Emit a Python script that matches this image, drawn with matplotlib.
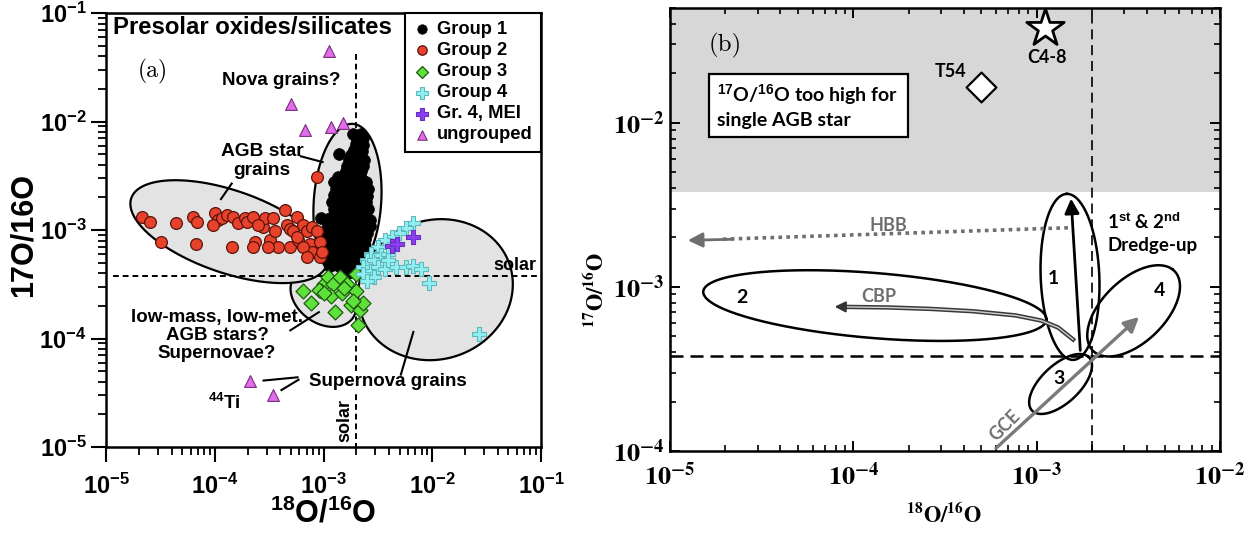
import numpy as np
import matplotlib.pyplot as plt
from matplotlib import patheffects as pe
from matplotlib.patches import Rectangle
from matplotlib.ticker import LogLocator, NullFormatter

plt.rcParams['font.family'] = ['Liberation Sans', 'DejaVu Sans']
plt.rcParams['font.weight'] = 'bold'
plt.rcParams['mathtext.fontset'] = 'custom'
plt.rcParams['mathtext.rm'] = 'Liberation Sans:bold'
plt.rcParams['mathtext.bf'] = 'Liberation Sans:bold'
plt.rcParams['mathtext.it'] = 'Liberation Sans:bold'

SOLAR_18, SOLAR_17 = 2.0e-3, 3.8e-4

# ---------------- panel (a): grain data (18O/16O, 17O/16O) ----------------
g1_18 = [1.85e-3, 2.2e-3, 2.3e-3, 2.05e-3, 2.0e-3, 2.3e-3, 1.9e-3, 2.25e-3,
         1.4e-3, 1.8e-3, 2.1e-3, 1.7e-3, 2.0e-3, 2.35e-3, 1.65e-3, 1.95e-3, 2.3e-3,
         1.6e-3, 1.9e-3, 2.2e-3, 1.35e-3, 1.55e-3, 1.85e-3, 2.2e-3,
         1.25e-3, 1.5e-3, 1.8e-3, 2.15e-3, 2.45e-3, 1.3e-3, 1.55e-3, 1.85e-3, 2.2e-3, 2.55e-3,
         1.25e-3, 1.5e-3, 1.8e-3, 2.1e-3, 2.5e-3, 1.2e-3, 1.45e-3, 1.75e-3, 2.05e-3, 2.45e-3,
         1.25e-3, 1.5e-3, 1.8e-3, 2.1e-3, 2.55e-3,
         9.4e-4, 1.15e-3, 1.4e-3, 1.7e-3, 2.0e-3, 2.4e-3, 2.7e-3,
         1.1e-3, 1.35e-3, 1.6e-3, 1.95e-3, 2.3e-3, 2.7e-3,
         1.0e-3, 1.2e-3, 1.45e-3, 1.75e-3, 2.1e-3, 2.5e-3,
         9.8e-4, 1.15e-3, 1.4e-3, 1.7e-3, 2.0e-3, 2.4e-3,
         1.0e-3, 1.2e-3, 1.45e-3, 1.75e-3, 2.1e-3, 2.4e-3,
         1.0e-3, 1.2e-3, 1.45e-3, 1.75e-3, 2.05e-3, 2.3e-3,
         1.1e-3, 1.35e-3, 1.6e-3, 1.9e-3, 2.2e-3,
         1.15e-3, 1.4e-3, 1.7e-3, 1.95e-3, 2.15e-3,
         1.5e-3, 1.8e-3, 2.0e-3]
g1_17 = [7.7e-3, 7.6e-3, 7.0e-3, 6.8e-3, 6.2e-3, 6.1e-3, 5.5e-3, 5.4e-3,
         5.0e-3, 4.9e-3, 5.0e-3, 4.4e-3, 4.3e-3, 4.4e-3, 3.9e-3, 3.8e-3, 3.9e-3,
         3.5e-3, 3.4e-3, 3.5e-3, 3.1e-3, 3.0e-3, 3.1e-3, 3.0e-3,
         2.8e-3, 2.75e-3, 2.8e-3, 2.7e-3, 2.8e-3, 2.4e-3, 2.45e-3, 2.4e-3, 2.35e-3, 2.4e-3,
         2.1e-3, 2.05e-3, 2.1e-3, 2.1e-3, 2.05e-3, 1.8e-3, 1.8e-3, 1.75e-3, 1.8e-3, 1.8e-3,
         1.55e-3, 1.55e-3, 1.5e-3, 1.55e-3, 1.55e-3,
         1.3e-3, 1.3e-3, 1.3e-3, 1.28e-3, 1.3e-3, 1.3e-3, 1.25e-3,
         1.12e-3, 1.12e-3, 1.1e-3, 1.12e-3, 1.12e-3, 1.08e-3,
         9.6e-4, 9.6e-4, 9.5e-4, 9.6e-4, 9.6e-4, 9.4e-4,
         8.3e-4, 8.3e-4, 8.2e-4, 8.3e-4, 8.3e-4, 8.2e-4,
         7.2e-4, 7.2e-4, 7.1e-4, 7.2e-4, 7.2e-4, 7.1e-4,
         6.2e-4, 6.2e-4, 6.1e-4, 6.2e-4, 6.2e-4, 6.1e-4,
         5.4e-4, 5.4e-4, 5.3e-4, 5.4e-4, 5.4e-4,
         4.7e-4, 4.7e-4, 4.6e-4, 4.7e-4, 4.7e-4,
         4.1e-4, 4.1e-4, 4.0e-4]

g2_18 = [2.13e-5, 2.54e-5, 4.38e-5, 3.2e-5, 6.27e-5, 6.82e-5, 6.73e-5, 1.0e-4, 1.08e-4,
         9.7e-5, 1.16e-4, 1.43e-4, 1.29e-4, 1.48e-4, 1.65e-4, 1.9e-4, 1.97e-4, 2.26e-4,
         2.34e-4, 2.26e-4, 2.8e-4, 2.9e-4, 3.22e-4, 3.46e-4, 3.58e-4, 3.85e-4, 4.43e-4,
         4.58e-4, 4.92e-4, 4.92e-4, 5.27e-4, 5.66e-4, 5.86e-4, 6.5e-4, 7.0e-4, 7.5e-4,
         7.8e-4, 7.9e-4, 8.65e-4, 9.3e-4, 9.3e-4, 9.6e-4, 8.65e-4, 2.52e-4, 3.11e-4,
         6.5e-4, 7.0e-4, 5.66e-4]
g2_17 = [1.31e-3, 1.18e-3, 1.15e-3, 7.8e-4, 1.31e-3, 1.18e-3, 7.5e-4, 1.43e-3, 1.24e-3,
         1.11e-3, 1.28e-3, 7.0e-4, 1.37e-3, 1.31e-3, 1.15e-3, 1.28e-3, 1.19e-3, 1.33e-3,
         7.8e-4, 7.0e-4, 1.07e-3, 1.28e-3, 8.1e-4, 1.28e-3, 9.7e-4, 7.0e-4, 1.53e-3,
         1.11e-3, 7.0e-4, 1.03e-3, 9.7e-4, 1.33e-3, 8.1e-4, 1.11e-3, 9.7e-4, 7.5e-4,
         6.3e-4, 1.07e-3, 9.7e-4, 5.7e-4, 7.8e-4, 6.3e-4, 3.1e-3, 1.11e-3, 7.0e-4,
         7.0e-4, 5.7e-4, 8.7e-4]

g3_18 = [6.46e-4, 7.7e-4, 1.02e-3, 1.09e-3, 1.23e-3, 1.43e-3, 1.66e-3, 9.4e-4, 1.18e-3,
         1.48e-3, 2.0e-3, 1.79e-3, 2.16e-3, 2.33e-3, 1.86e-3, 1.27e-3, 2.08e-3, 9.1e-4,
         2.0e-3, 1.55e-3, 1.02e-3]
g3_17 = [2.77e-4, 2.12e-4, 3.16e-4, 3.66e-4, 3.16e-4, 3.66e-4, 3.2e-4, 2.73e-4, 2.45e-4,
         2.64e-4, 2.73e-4, 2.05e-4, 1.84e-4, 2.12e-4, 2.2e-4, 1.77e-4, 1.33e-4, 2.8e-4,
         3.93e-4, 2.9e-4, 2.6e-4]

g4_18 = [6.7e-3, 5.76e-3, 4.96e-3, 4.26e-3, 3.66e-3, 3.15e-3, 2.71e-3, 2.51e-3, 2.92e-3,
         3.4e-3, 3.95e-3, 2.33e-3, 2.71e-3, 3.15e-3, 3.66e-3, 4.6e-3, 5.76e-3, 6.7e-3,
         7.8e-3, 9.4e-3, 2.33e-3, 2.92e-3, 2.51e-3, 3.95e-3, 2.71e-2]
g4_17 = [1.16e-3, 1.04e-3, 9.4e-4, 8.7e-4, 8.1e-4, 7.0e-4, 6.07e-4, 5.25e-4, 5.25e-4,
         5.85e-4, 6.07e-4, 4.54e-4, 4.22e-4, 4.54e-4, 4.38e-4, 4.54e-4, 4.6e-4, 4.7e-4,
         4.38e-4, 3.28e-4, 3.93e-4, 3.66e-4, 3.4e-4, 5.25e-4, 1.1e-4]

mei_18 = [4.26e-3, 4.78e-3, 6.7e-3]
mei_17 = [7.1e-4, 7.4e-4, 8.7e-4]

ung_18 = [1.12e-3, 5.0e-4, 6.8e-4, 1.17e-3, 1.51e-3, 2.11e-4, 3.44e-4]
ung_17 = [4.47e-2, 1.45e-2, 8.36e-3, 8.9e-3, 9.7e-3, 4.06e-5, 3.0e-5]

exps_a = [-5, -4, -3, -2, -1]

# outlined regions: centre (18O/16O, 17O/16O), half axes in decades, tilt (deg)
region_g3 = (1.0e-3, 2.4e-4, 0.33, 0.24, -35)
region_g4 = (1.07e-2, 2.82e-4, 0.72, 0.64, 20)
region_g2 = (1.35e-4, 9.66e-4, 0.95, 0.38, -19)
region_g1 = (1.66e-3, 1.82e-3, 0.72, 0.31, 86)

# ---------------- panel (b): schematic ----------------
exps_bx = [-5, -4, -3, -2]
exps_by = [-4, -3, -2]
agb_limit = 3.8e-3
c48 = (1.11e-3, 3.78e-2)
t54 = (4.95e-4, 1.65e-2)
zone_1 = (1.52e-3, 1.15e-3, 0.506, 0.16, 92)
zone_2 = (1.31e-4, 7.69e-4, 0.94, 0.198, -5.3)
zone_3 = (1.35e-3, 2.56e-4, 0.225, 0.11, 48)
zone_4 = (3.38e-3, 7.14e-4, 0.33, 0.18, 50)
dredge_start, dredge_end = (1.73e-3, 4.1e-4), (1.54e-3, 3.45e-3)
hbb_start, hbb_end = (1.48e-3, 2.29e-3), (1.25e-5, 1.92e-3)
gce_start, gce_end = (6.0e-4, 1.04e-4), (3.62e-3, 6.56e-4)
cbp_18 = [1.58e-3, 1.31e-3, 1.06e-3, 7.67e-4, 4.5e-4, 2.64e-4, 1.55e-4, 9.0e-5]
cbp_17 = [4.78e-4, 5.65e-4, 6.23e-4, 6.7e-4, 7.1e-4, 7.34e-4, 7.49e-4, 7.55e-4]
cbp_tip = (7.9e-5, 7.57e-4)


def ellipse_xy(cx, cy, a, b, tilt, n=240):
    t = np.linspace(0, 2 * np.pi, n)
    th = np.radians(tilt)
    u, v = a * np.cos(t), b * np.sin(t)
    lx = np.log10(cx) + u * np.cos(th) - v * np.sin(th)
    ly = np.log10(cy) + u * np.sin(th) + v * np.cos(th)
    return 10 ** lx, 10 ** ly


fig = plt.figure(figsize=(12.55, 5.36), dpi=100)
ax = fig.add_axes([0.0845, 0.166, 0.3466, 0.8097])
bx = fig.add_axes([0.5339, 0.1586, 0.4382, 0.8265])

# ================= panel (a) =================
ax.set_xscale('log')
ax.set_yscale('log')
ax.set_xlim(1e-5, 1e-1)
ax.set_ylim(1e-5, 1e-1)

for reg in (region_g3, region_g4, region_g2, region_g1):
    ex, ey = ellipse_xy(*reg)
    ax.fill(ex, ey, fc='#e3e3e3', ec='black', lw=1.6, zorder=1)

ax.plot([SOLAR_18, SOLAR_18], [4.2e-2, 1e-5], color='black', lw=1.4,
        dashes=(3, 2), zorder=2)
ax.plot([1.16e-5, 1e-1], [SOLAR_17, SOLAR_17], color='black', lw=1.4,
        dashes=(3, 2), zorder=2)

s1 = ax.scatter(g1_18, g1_17, s=72, c='black', edgecolors='black', lw=0.5,
                zorder=3, label='Group 1')
s2 = ax.scatter(g2_18, g2_17, s=72, c='#e8412c', edgecolors='#5a140a', lw=0.9,
                zorder=4, label='Group 2')
s3 = ax.scatter(g3_18, g3_17, s=58, marker='D', c='#5ee23a', edgecolors='#1f5a12',
                lw=0.9, zorder=4, label='Group 3')
s4 = ax.scatter(g4_18, g4_17, s=110, marker='P', c='#8ff0f0', edgecolors='#5fb8c0',
                lw=0.8, zorder=4, label='Group 4')
s5 = ax.scatter(mei_18, mei_17, s=110, marker='P', c='#8a3ff0', edgecolors='#6a2fc0',
                lw=0.8, zorder=5, label='Gr. 4, MEI')
s6 = ax.scatter(ung_18, ung_17, s=72, marker='^', c='#e06ee8', edgecolors='#7a2a80',
                lw=0.8, zorder=5, label='ungrouped')

leg = ax.legend(handles=[s1, s2, s3, s4, s5, s6], loc='upper right', bbox_to_anchor=(1, 1),
                borderaxespad=0, fancybox=False, edgecolor='black', framealpha=1,
                fontsize=13.2, handletextpad=0.3, labelspacing=0.22, borderpad=0.45,
                handlelength=1.0, markerscale=0.8)
leg.get_frame().set_linewidth(1.5)
leg.set_zorder(6)

# leader lines for the annotations
leaders = [((6.2e-4, 4.78e-3), (9.8e-4, 4.23e-3)),
           ((1.43e-4, 2.68e-3), (1.14e-4, 1.93e-3)),
           ((4.95e-4, 1.19e-4), (9.06e-4, 1.75e-4)),
           ((5.14e-3, 4.65e-5), (6.7e-3, 1.15e-4)),
           ((5.77e-4, 4.39e-5), (2.81e-4, 4.1e-5)),
           ((5.89e-4, 4.17e-5), (4.1e-4, 3.35e-5))]
for (x0, y0), (x1, y1) in leaders:
    ax.plot([x0, x1], [y0, y1], color='black', lw=1.5, zorder=5)

ax.text(0.016, 0.966, 'Presolar oxides/silicates', transform=ax.transAxes,
        fontsize=17.2, ha='left', va='center')
ax.text(0.108, 0.866, '(a)', transform=ax.transAxes, fontsize=17,
        family='cmr10', weight='normal', ha='center', va='center')
ax.text(4.1e-4, 2.4e-2, 'Nova grains?', fontsize=13.5, ha='center', va='center')
ax.text(2.71e-4, 4.35e-3, 'AGB star\ngrains', fontsize=13.8, ha='center', va='center',
        linespacing=1.15)
ax.text(1.05e-4, 1.07e-4, 'low-mass, low-met.\nAGB stars?\nSupernovae?', fontsize=13.5,
        ha='center', va='center', linespacing=1.1)
ax.text(7.4e-4, 4.02e-5, 'Supernova grains', fontsize=13.5, ha='left', va='center',
        zorder=4, bbox=dict(boxstyle='square,pad=0.05', fc='white', ec='none'))
ax.text(1.23e-4, 2.55e-5, r'$^{44}$Ti', fontsize=13.5, ha='center', va='center')
ax.text(9.06e-2, 4.71e-4, 'solar', fontsize=13, ha='right', va='center')
ax.text(1.57e-3, 1.75e-5, 'solar', fontsize=13, ha='center', va='center',
        rotation=90)

ax.set_xticks([10.0 ** e for e in exps_a])
ax.set_xticklabels([r'$\mathbf{10^{%d}}$' % e for e in exps_a])
ax.set_yticks([10.0 ** e for e in exps_a])
ax.set_yticklabels([r'$\mathbf{10^{%d}}$' % e for e in exps_a])
for axis in (ax.xaxis, ax.yaxis):
    axis.set_minor_locator(LogLocator(base=10, subs=np.arange(2, 10)))
    axis.set_minor_formatter(NullFormatter())
ax.tick_params(which='major', direction='out', length=11, width=1.5, labelsize=17,
               pad=3)
ax.tick_params(which='minor', direction='out', length=5.5, width=1.3)
ax.tick_params(axis='x', which='major', pad=8)
for sp in ax.spines.values():
    sp.set_linewidth(1.8)

fig.text(24 / 1255, 1 - 235 / 536, '17O/16O', rotation=90, fontsize=22,
         ha='center', va='center')
fig.text(323 / 1255, 1 - 514 / 536, r'$^{18}$O/$^{16}$O', fontsize=22,
         ha='center', va='center')

# ================= panel (b) =================
bx.set_xscale('log')
bx.set_yscale('log')
bx.set_xlim(1e-5, 1e-2)
bx.set_ylim(1e-4, 5e-2)

bx.axhspan(agb_limit, 5e-2, color='#d7d7d7', lw=0, zorder=0)
bx.axvline(SOLAR_18, color='black', lw=1.2, dashes=(6, 3.5), zorder=1)
bx.axhline(SOLAR_17, color='black', lw=1.8, dashes=(5.2, 2.8), zorder=1)

for zone in (zone_1, zone_2, zone_3, zone_4):
    ex, ey = ellipse_xy(*zone)
    bx.plot(ex, ey, color='black', lw=1.8, zorder=3)

calibri = ['Lato', 'DejaVu Sans']
grey = '#6e6e6e'

# dredge-up arrow
bx.annotate('', xy=dredge_end, xytext=dredge_start, zorder=4,
            arrowprops=dict(arrowstyle='-|>', color='black', lw=2.0,
                            mutation_scale=22, shrinkA=0, shrinkB=0))
# hot bottom burning (dotted)
bx.plot([hbb_start[0], 1.9e-5], [hbb_start[1], 1.95e-3], color=grey, lw=2.6,
        ls=(0, (1, 1.2)), zorder=4)
bx.annotate('', xy=hbb_end, xytext=(2.2e-5, 1.95e-3), zorder=4,
            arrowprops=dict(arrowstyle='-|>', color=grey, lw=2.0,
                            mutation_scale=22, shrinkA=0, shrinkB=0))
# cool bottom processing (outlined curve)
bx.plot(cbp_18, cbp_17, color='#d0d0d0', lw=1.0, zorder=4,
        path_effects=[pe.Stroke(linewidth=3.2, foreground='#3a3a3a'), pe.Normal()])
bx.annotate('', xy=cbp_tip, xytext=(cbp_18[-1], cbp_17[-1]), zorder=4,
            arrowprops=dict(arrowstyle='-|>', color='#333333', lw=1.5,
                            mutation_scale=16, shrinkA=0, shrinkB=0))
# galactic chemical evolution
bx.annotate('', xy=gce_end, xytext=gce_start, zorder=4,
            arrowprops=dict(arrowstyle='-|>', color='#7a7a7a', lw=2.4,
                            mutation_scale=22, shrinkA=0, shrinkB=0))

bx.text(1.55e-4, 2.36e-3, 'HBB', color=grey, fontsize=13, family=calibri,
        weight='bold', ha='center', va='center')
bx.text(1.38e-4, 8.7e-4, 'CBP', color=grey, fontsize=13, family=calibri,
        weight='bold', ha='center', va='center')
bx.text(6.7e-4, 1.42e-4, 'GCE', color=grey, fontsize=13, family=calibri,
        weight='bold', ha='center', va='center', rotation=45)
for lbl, px, py in (('1', 1.24e-3, 1.12e-3), ('2', 2.47e-5, 8.57e-4),
                    ('3', 1.32e-3, 2.75e-4), ('4', 4.66e-3, 9.46e-4)):
    bx.text(px, py, lbl, fontsize=14, family=calibri, weight='bold',
            ha='center', va='center', zorder=5)
bx.text(2.42e-3, 2.12e-3, '1$^{st}$ & 2$^{nd}$\nDredge-up', fontsize=13.5,
        family=calibri, weight='bold', ha='left', va='center', linespacing=1.35)

bx.scatter([c48[0]], [c48[1]], s=800, marker='*', c='white', edgecolors='black',
           lw=2.0, zorder=5)
bx.text(c48[0] * 1.02, 2.49e-2, 'C4-8', fontsize=13, family=calibri,
        weight='bold', ha='center', va='center')
bx.scatter([t54[0]], [t54[1]], s=230, marker='D', c='white', edgecolors='black',
           lw=1.6, zorder=5)
bx.text(3.4e-4, 2.04e-2, 'T54', fontsize=13, family=calibri, weight='bold',
        ha='center', va='center')

bx.add_patch(Rectangle((0.071, 0.709), 0.362, 0.142, transform=bx.transAxes,
                       fc='white', ec='black', lw=1.6, zorder=5))
bx.text(0.085, 0.78, '$^{17}$O/$^{16}$O too high for\nsingle AGB star',
        transform=bx.transAxes, fontsize=14, family=calibri, weight='bold',
        ha='left', va='center', linespacing=1.35, zorder=6)
bx.text(0.1, 0.916, '(b)', transform=bx.transAxes, fontsize=18, family='cmr10',
        weight='normal', ha='center', va='center')

bx.set_xticks([10.0 ** e for e in exps_bx])
bx.set_xticklabels([r'$\mathbf{10^{%d}}$' % e for e in exps_bx], math_fontfamily='stix')
bx.set_yticks([10.0 ** e for e in exps_by])
bx.set_yticklabels([r'$\mathbf{10^{%d}}$' % e for e in exps_by], math_fontfamily='stix')
for axis in (bx.xaxis, bx.yaxis):
    axis.set_minor_locator(LogLocator(base=10, subs=np.arange(2, 10)))
    axis.set_minor_formatter(NullFormatter())
bx.tick_params(which='both', direction='in', top=True, right=True)
bx.tick_params(which='major', length=7, width=1.4, labelsize=19, pad=4)
bx.tick_params(which='minor', length=4, width=1.2)
bx.tick_params(axis='x', which='major', pad=8)
for sp in bx.spines.values():
    sp.set_linewidth(1.8)

fig.text(944 / 1255, 1 - 516 / 536, r'$\mathbf{^{18}O/^{16}O}$', math_fontfamily='stix',
         fontsize=16, ha='center', va='center')
fig.text(597 / 1255, 1 - 290 / 536, r'$\mathbf{^{17}O/^{16}O}$', math_fontfamily='stix',
         fontsize=16, rotation=90, ha='center', va='center')

fig.savefig('out.png', dpi=100)
